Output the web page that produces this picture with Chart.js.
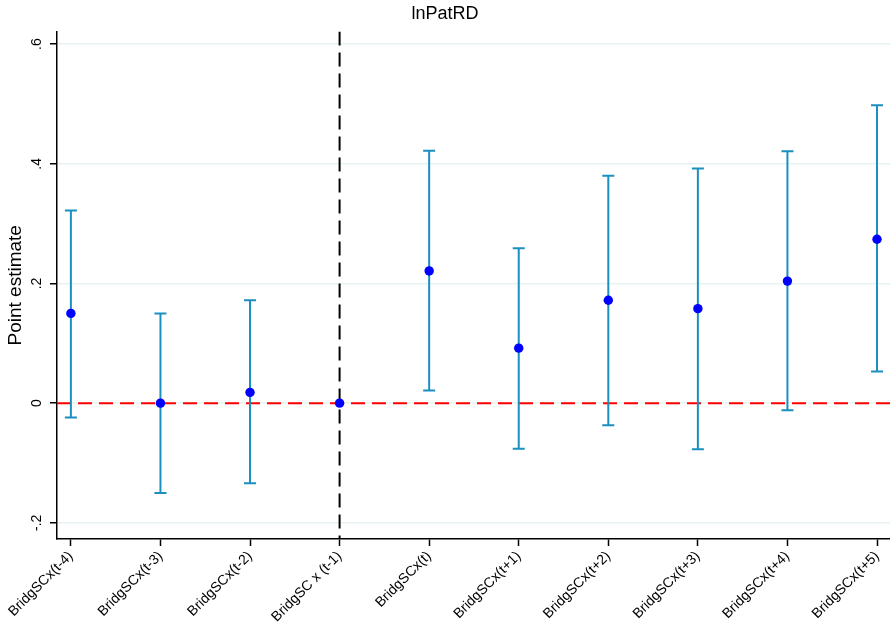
<!DOCTYPE html>
<html>
<head>
<meta charset="utf-8">
<script src="https://cdn.jsdelivr.net/npm/chart.js@4"></script>
<style>
  html, body { margin: 0; padding: 0; background: #fff; }
  #wrap { width: 890px; height: 626px; position: relative; }
</style>
</head>
<body>
<div id="wrap"><canvas id="chart"></canvas></div>
<script>
const categories = ['BridgSCx(t-4)', 'BridgSCx(t-3)', 'BridgSCx(t-2)', 'BridgSC x (t-1)', 'BridgSCx(t)',
  'BridgSCx(t+1)', 'BridgSCx(t+2)', 'BridgSCx(t+3)', 'BridgSCx(t+4)', 'BridgSCx(t+5)'];
const estimates = [0.150, 0.000, 0.018, 0.000, 0.221, 0.092, 0.172, 0.158, 0.204, 0.274];
const ciLower = [-0.024, -0.150, -0.134, null, 0.021, -0.076, -0.037, -0.077, -0.012, 0.053];
const ciUpper = [0.322, 0.150, 0.172, null, 0.422, 0.259, 0.380, 0.392, 0.421, 0.498];
const yTicks = [-0.2, 0, 0.2, 0.4, 0.6];
const yTickLabels = ['-.2', '0', '.2', '.4', '.6'];
const eventIndex = 3; // vertical reference line at t-1

const FONT = '"Liberation Sans", Arial, Helvetica, sans-serif';

// reference lines + confidence intervals, drawn under the points
const ciPlugin = {
  id: 'ciPlugin',
  beforeDatasetsDraw(chart) {
    const { ctx, chartArea, scales: { x, y } } = chart;
    ctx.save();
    ctx.beginPath();
    ctx.rect(chartArea.left, chartArea.top, chartArea.right - chartArea.left, chartArea.bottom - chartArea.top);
    ctx.clip();

    // zero line
    const y0 = y.getPixelForValue(0);
    ctx.strokeStyle = '#ff0000';
    ctx.lineWidth = 2;
    ctx.setLineDash([14, 7]);
    ctx.beginPath();
    ctx.moveTo(chartArea.left, y0);
    ctx.lineTo(chartArea.right, y0);
    ctx.stroke();

    // event line
    const xe = x.getPixelForValue(eventIndex);
    ctx.strokeStyle = '#000';
    ctx.setLineDash([14, 7]);
    ctx.beginPath();
    ctx.moveTo(xe, chartArea.top);
    ctx.lineTo(xe, chartArea.bottom);
    ctx.stroke();

    // error bars
    ctx.setLineDash([]);
    ctx.strokeStyle = '#1a8fc0';
    ctx.lineWidth = 2;
    const cap = 6;
    categories.forEach((c, i) => {
      if (ciLower[i] === null || ciUpper[i] === null) return;
      const px = x.getPixelForValue(i);
      const lo = y.getPixelForValue(ciLower[i]);
      const hi = y.getPixelForValue(ciUpper[i]);
      ctx.beginPath();
      ctx.moveTo(px, lo); ctx.lineTo(px, hi);
      ctx.moveTo(px - cap, lo); ctx.lineTo(px + cap, lo);
      ctx.moveTo(px - cap, hi); ctx.lineTo(px + cap, hi);
      ctx.stroke();
    });
    ctx.restore();
  },
  afterDraw(chart) {
    // rotated y tick labels
    const { ctx, scales: { y } } = chart;
    ctx.save();
    ctx.font = '14px ' + FONT;
    ctx.fillStyle = '#000';
    ctx.textAlign = 'center';
    ctx.textBaseline = 'middle';
    yTicks.forEach((v, i) => {
      ctx.save();
      ctx.translate(37, y.getPixelForValue(v));
      ctx.rotate(-Math.PI / 2);
      ctx.fillText(yTickLabels[i], 0, 0);
      ctx.restore();
    });
    ctx.restore();
  }
};

new Chart(document.getElementById('chart').getContext('2d'), {
  type: 'scatter',
  data: {
    datasets: [{
      data: estimates.map((v, i) => ({ x: i, y: v })),
      backgroundColor: '#0000ff',
      borderColor: '#0000ff',
      pointRadius: 4.7,
      pointBorderWidth: 0
    }]
  },
  options: {
    responsive: true,
    maintainAspectRatio: false,
    animation: false,
    layout: { autoPadding: false, padding: { left: 0, right: 0, top: 0, bottom: 0 } },
    plugins: {
      legend: { display: false },
      tooltip: { enabled: false },
      title: {
        display: true,
        text: 'lnPatRD',
        color: '#000',
        font: { family: FONT, size: 18, weight: 'normal' },
        padding: { top: 3, bottom: 7 }
      }
    },
    scales: {
      x: {
        type: 'linear',
        min: -0.155,
        max: 9.145,
        afterBuildTicks: s => { s.ticks = categories.map((c, i) => ({ value: i })); },
        afterFit: s => { s.height = 87; s.paddingLeft = 0; s.paddingRight = 0; },
        grid: { drawOnChartArea: false, drawTicks: true, tickLength: 7, tickColor: '#000', tickWidth: 1.5 },
        border: { color: '#000', width: 1.5 },
        ticks: {
          autoSkip: false,
          minRotation: 45,
          maxRotation: 45,
          padding: 2,
          color: '#000',
          font: { family: FONT, size: 14 },
          callback: v => categories[v]
        }
      },
      y: {
        min: -0.227,
        max: 0.621,
        afterBuildTicks: s => { s.ticks = yTicks.map(v => ({ value: v })); },
        afterFit: s => { s.width = 57; },
        grid: { color: '#e8f1f3', lineWidth: 1.5, drawTicks: true, tickLength: 7, tickColor: '#000', tickWidth: 1.5 },
        border: { color: '#000', width: 1.5 },
        ticks: { display: false },
        title: {
          display: true,
          text: 'Point estimate',
          color: '#000',
          font: { family: FONT, size: 19 },
          padding: { top: 4, bottom: 4 }
        }
      }
    }
  },
  plugins: [ciPlugin]
});
</script>
</body>
</html>
